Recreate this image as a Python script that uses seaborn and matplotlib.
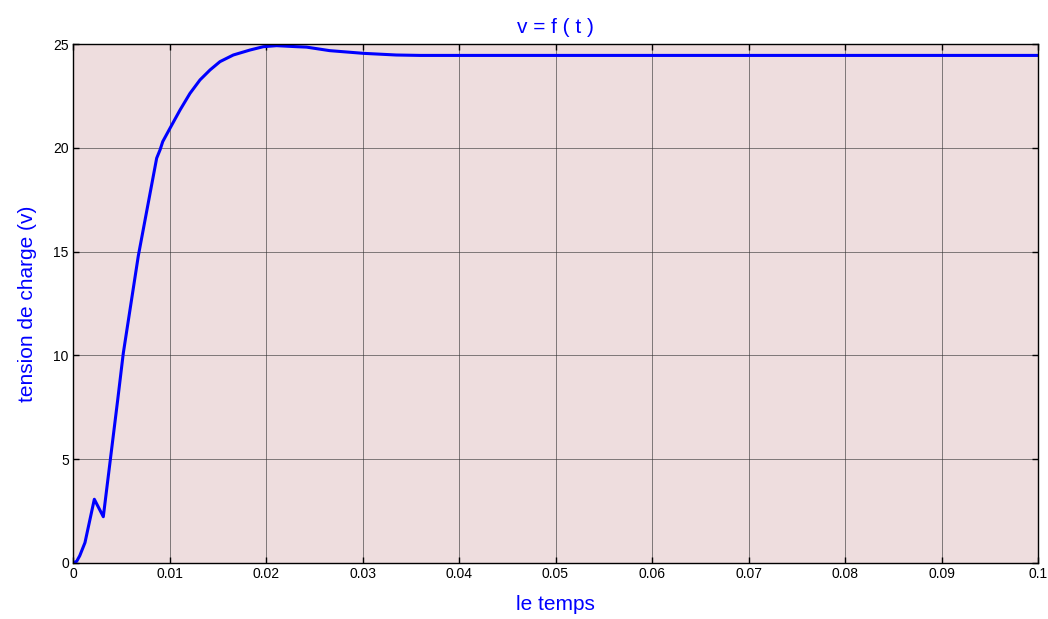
import matplotlib
matplotlib.use("Agg")
import matplotlib.pyplot as plt
import seaborn as sns
import pandas as pd

# Data
t = [0.0, 0.00038, 0.0007, 0.00124, 0.00221, 0.00314, 0.00463,
     0.00521, 0.00677, 0.00867, 0.00902, 0.0093, 0.01005, 0.01109, 0.01212,
     0.01316, 0.0142, 0.01523, 0.01661, 0.01834, 0.01972, 0.0211, 0.0232,
     0.0242, 0.0266, 0.0301, 0.0335, 0.036, 0.04, 0.05, 0.06, 0.07, 0.08,
     0.09, 0.1]
v = [0.0, 0.08, 0.35, 0.98, 3.07, 2.23, 7.85,
     10.1, 14.8, 19.5, 19.9, 20.3, 20.94, 21.82, 22.62,
     23.27, 23.75, 24.15, 24.47, 24.71, 24.87, 24.92, 24.87,
     24.85, 24.68, 24.55, 24.47, 24.45, 24.45, 24.45, 24.45, 24.45, 24.45,
     24.45, 24.45]
xticks = [0, 0.01, 0.02, 0.03, 0.04, 0.05, 0.06, 0.07, 0.08, 0.09, 0.1]
xticklabels = ["0", "0.01", "0.02", "0.03", "0.04", "0.05", "0.06", "0.07", "0.08", "0.09", "0.1"]
yticks = [0, 5, 10, 15, 20, 25]

df = pd.DataFrame({"t": t, "v": v})

sns.set_theme(style="white")
plt.rcParams['font.family'] = ['Liberation Sans', 'DejaVu Sans']

fig = plt.figure(figsize=(10.48, 6.19), dpi=100)
ax = fig.add_axes([73/1048, 1-563/619, (1038-73)/1048, (563-44)/619])
ax.set_facecolor("#EEDDDE")

sns.lineplot(data=df, x="t", y="v", ax=ax, color="#0000FF", linewidth=2.2, sort=False)

ax.set_xlim(0, 0.1)
ax.set_ylim(0, 25)
ax.set_xticks(xticks)
ax.set_xticklabels(xticklabels)
ax.set_yticks(yticks)
ax.grid(True, color="#333333", linewidth=0.7, alpha=0.6)
ax.tick_params(direction="in", length=4, width=1, colors="black", labelsize=10,
               top=True, right=True, bottom=True, left=True, pad=3)
for s in ax.spines.values():
    s.set_color("black")
    s.set_linewidth(1.0)

ax.set_title("v = f ( t )", color="#0000FF", fontsize=15, pad=8)
ax.set_xlabel("le temps", color="#0000FF", fontsize=15, labelpad=10)
ax.set_ylabel("tension de charge (v)", color="#0000FF", fontsize=15, labelpad=12)

fig.savefig("out.png", dpi=100)
